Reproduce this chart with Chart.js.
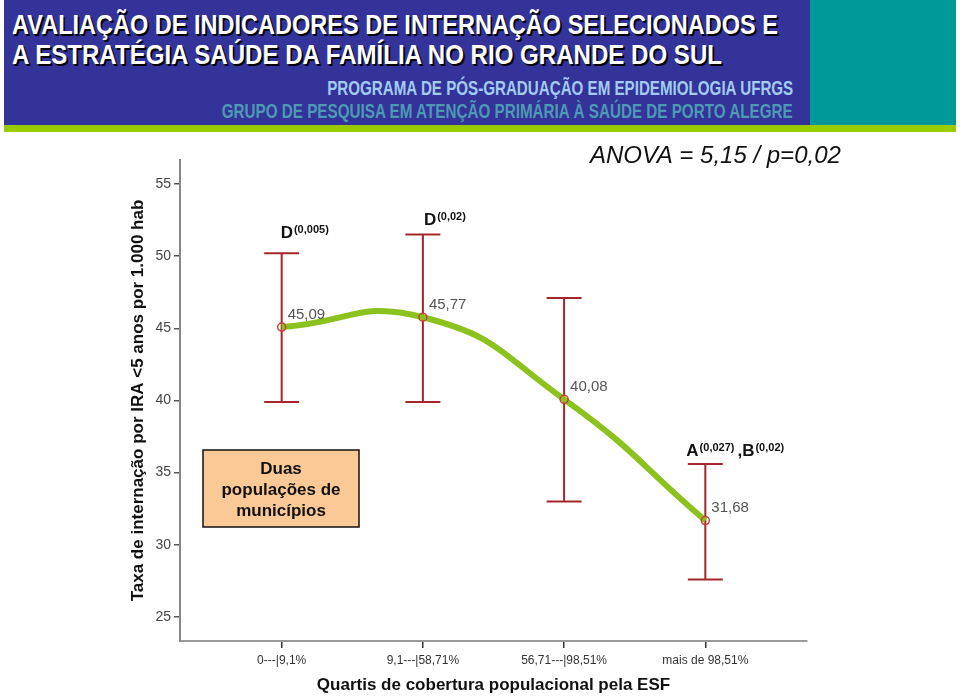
<!DOCTYPE html>
<html><head><meta charset="utf-8">
<script src="https://cdn.jsdelivr.net/npm/chart.js@4"></script>
<style>
html,body{margin:0;padding:0;background:#fff;}
#wrap{position:relative;width:960px;height:696px;overflow:hidden;font-family:"Liberation Sans",Arial,sans-serif;}
#c{position:absolute;left:0;top:0;z-index:1;}
.band{position:absolute;z-index:2;}
.t{position:absolute;white-space:nowrap;font-weight:bold;line-height:1;z-index:3;font-family:"Liberation Sans",Arial,sans-serif;}
</style></head>
<body><div id="wrap">
<canvas id="c" width="960" height="696"></canvas>
<div class="band" style="left:4px;top:0;width:806px;height:125px;background:#333399"></div>
<div class="band" style="left:810px;top:0;width:146px;height:125px;background:#009999"></div>
<div class="band" style="left:4px;top:125px;width:952px;height:7px;background:#99CC00"></div>
<div class="t" id="h1" data-w="766" style="left:12px;top:11px;font-size:28px;color:#fff;text-shadow:2px 2px 0 #000;transform-origin:left top;">AVALIAÇÃO DE INDICADORES DE INTERNAÇÃO SELECIONADOS E</div>
<div class="t" id="h2" data-w="710" style="left:12px;top:41px;font-size:28px;color:#fff;text-shadow:2px 2px 0 #000;transform-origin:left top;">A ESTRATÉGIA SAÚDE DA FAMÍLIA NO RIO GRANDE DO SUL</div>
<div class="t" id="h3" data-w="466" style="right:167px;top:78px;font-size:20px;color:#A4CBF2;transform-origin:right top;">PROGRAMA DE PÓS-GRADUAÇÃO EM EPIDEMIOLOGIA UFRGS</div>
<div class="t" id="h4" data-w="571" style="right:167px;top:101px;font-size:20px;color:#4E9AB4;transform-origin:right top;">GRUPO DE PESQUISA EM ATENÇÃO PRIMÁRIA À SAÚDE DE PORTO ALEGRE</div>
</div>
<script>
// ---- data ----
const categories = ['0---|9,1%', '9,1---|58,71%', '56,71---|98,51%', 'mais de 98,51%'];
const means = [45.09, 45.77, 40.08, 31.68];
const lowerCI = [39.9, 39.9, 33.0, 27.6];
const upperCI = [50.2, 51.5, 47.1, 35.6];
const yTicks = [25, 30, 35, 40, 45, 50, 55];
const sigLetters = [['D'], ['D'], [], ['A', 'B']];
const sigPvalues = [['(0,005)'], ['(0,02)'], [], ['(0,027)', '(0,02)']];
const anovaText = 'ANOVA = 5,15 / p=0,02';
const boxLines = ['Duas', 'populações de', 'municípios'];
const xTitle = 'Quartis de cobertura populacional pela ESF';
const yTitle = 'Taxa de internação por IRA <5 anos por 1.000 hab';

// ---- layout/style (not data) ----
const sigOffsets = [[-1, -15], [1, -10], [0, 0], [-19, -8]];
const FONT = '"Liberation Sans", Arial, sans-serif';
const errColor = '#A3262A';

const points = means.map((v, i) => ({x: i, y: v}));

const overlay = {
  id: 'overlay',
  beforeDatasetsDraw(chart) {
    const ctx = chart.ctx, xs = chart.scales.x, ys = chart.scales.y;
    ctx.save();
    ctx.strokeStyle = errColor;
    ctx.lineWidth = 2;
    categories.forEach((c, i) => {
      const px = xs.getPixelForValue(i);
      const yl = ys.getPixelForValue(lowerCI[i]);
      const yu = ys.getPixelForValue(upperCI[i]);
      ctx.beginPath();
      ctx.moveTo(px, yl); ctx.lineTo(px, yu);
      ctx.moveTo(px - 17.5, yl); ctx.lineTo(px + 17.5, yl);
      ctx.moveTo(px - 17.5, yu); ctx.lineTo(px + 17.5, yu);
      ctx.stroke();
    });
    ctx.restore();
  },
  afterDatasetsDraw(chart) {
    const ctx = chart.ctx, xs = chart.scales.x, ys = chart.scales.y;
    ctx.save();
    // value labels
    ctx.font = '15px ' + FONT;
    ctx.fillStyle = '#555';
    ctx.textBaseline = 'alphabetic';
    means.forEach((v, i) => {
      const px = xs.getPixelForValue(i), py = ys.getPixelForValue(v);
      ctx.fillText(v.toFixed(2).replace('.', ','), px + 6, py - 8.5);
    });
    // significance letters
    ctx.fillStyle = '#111';
    sigLetters.forEach((letters, i) => {
      if (!letters.length) return;
      let x = xs.getPixelForValue(i) + sigOffsets[i][0];
      const base = ys.getPixelForValue(upperCI[i]) + sigOffsets[i][1];
      letters.forEach((L, k) => {
        ctx.font = 'bold 17px ' + FONT;
        const txt = (k > 0 ? ',' : '') + L;
        if (k > 0) x += 3;
        ctx.fillText(txt, x, base);
        x += ctx.measureText(txt).width + 1;
        ctx.font = 'bold 11px ' + FONT;
        ctx.fillText(sigPvalues[i][k], x, base - 5);
        x += ctx.measureText(sigPvalues[i][k]).width;
      });
    });
    // ANOVA
    ctx.font = 'italic 24px ' + FONT;
    ctx.fillStyle = '#111';
    ctx.fillText(anovaText, 590, 163);
    // box
    ctx.fillStyle = '#FBC995';
    ctx.fillRect(203, 450, 156, 77);
    ctx.strokeStyle = '#111';
    ctx.lineWidth = 1.5;
    ctx.strokeRect(203, 450, 156, 77);
    ctx.font = 'bold 17px ' + FONT;
    ctx.fillStyle = '#111';
    ctx.textAlign = 'center';
    boxLines.forEach((l, k) => ctx.fillText(l, 281, 474 + k * 21));
    ctx.restore();
  }
};

new Chart(document.getElementById('c'), {
  type: 'line',
  data: {
    datasets: [
      {type: 'scatter', data: points, pointRadius: 4, pointBorderWidth: 1.5,
       pointBorderColor: '#C8403C', pointBackgroundColor: 'rgba(0,0,0,0)', order: 1},
      {type: 'line', data: points, borderColor: '#8CC21E', borderWidth: 6, tension: 0.5,
       pointRadius: 0, fill: false, order: 2, borderCapStyle: 'butt'}
    ]
  },
  options: {
    responsive: false, animation: false,
    plugins: {legend: {display: false}, tooltip: {enabled: false}},
    layout: {padding: {left: 128, right: 153, top: 160, bottom: 0}},
    scales: {
      x: {
        type: 'linear', min: -0.72, max: 3.72,
        afterBuildTicks: s => { s.ticks = categories.map((_, i) => ({value: i})); },
        afterFit: s => { s.height = 55; },
        ticks: {callback: v => categories[v], autoSkip: false, maxRotation: 0,
                font: {size: 12, family: FONT}, color: '#333', padding: 5},
        grid: {drawOnChartArea: false, drawTicks: true, tickLength: 7, color: '#333', lineWidth: 1.5},
        border: {color: '#999', width: 2},
        title: {display: true, text: xTitle, font: {size: 17, weight: 'bold', family: FONT}, color: '#111', padding: 0}
      },
      y: {
        min: 23.33, max: 56.67,
        afterBuildTicks: s => { s.ticks = yTicks.map(v => ({value: v})); },
        afterFit: s => { s.width = 52; },
        ticks: {font: {size: 14, family: FONT}, color: '#444', padding: 3},
        grid: {drawOnChartArea: false, drawTicks: true, tickLength: 6, color: '#555', lineWidth: 1.5},
        border: {color: '#888', width: 2},
        title: {display: true, text: yTitle, font: {size: 17, weight: 'bold', family: FONT}, color: '#111', padding: 0}
      }
    }
  },
  plugins: [overlay]
});

function fitHeader() {
  document.querySelectorAll('.t').forEach(el => {
    el.style.transform = 'none';
    const w = el.getBoundingClientRect().width;
    el.style.transform = 'scaleX(' + (parseFloat(el.dataset.w) / w) + ')';
  });
}
fitHeader();
if (document.fonts && document.fonts.ready) document.fonts.ready.then(fitHeader);
</script>
</body></html>
